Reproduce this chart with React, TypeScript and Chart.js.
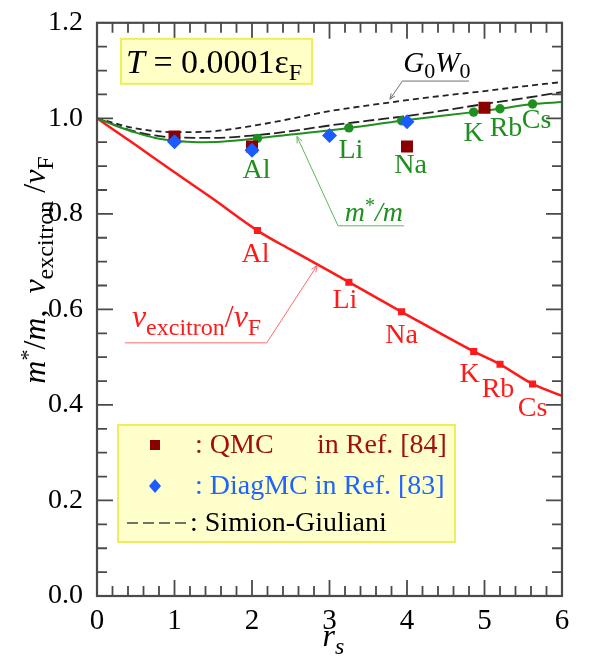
import React, { useEffect, useRef } from 'react';
import { Chart, registerables } from 'chart.js';

Chart.register(...registerables);

// ---------------- data ----------------
const elementNames = ['Al', 'Li', 'Na', 'K', 'Rb', 'Cs'];
const elementRs = [2.07, 3.25, 3.93, 4.86, 5.2, 5.62];
const vExcAtElements = [0.765, 0.657, 0.595, 0.512, 0.485, 0.444];
const mStarAtElements = [0.958, 0.98, 0.995, 1.013, 1.02, 1.03];

const vExcCurveRs = [0, 0.5, 1, 1.5, 2.07, 2.5, 3.0, 3.25, 3.93, 4.86, 5.2, 5.62, 6];
const vExcCurve = [1, 0.944, 0.887, 0.831, 0.765, 0.725, 0.68, 0.657, 0.595, 0.512, 0.485, 0.444, 0.419];

const mStarCurveRs = [0, 0.25, 0.5, 0.75, 1, 1.3, 1.6, 2.07, 2.5, 3.25, 3.93, 4.86, 5.2, 5.62, 6];
const mStarCurve = [1, 0.984, 0.97, 0.959, 0.953, 0.95, 0.951, 0.958, 0.966, 0.98, 0.995, 1.013, 1.02, 1.03, 1.034];

const theoryRs = [0, 0.5, 1, 1.5, 2, 2.5, 3, 3.5, 4, 4.5, 5, 5.5, 6];
const g0w0Curve = [1, 0.979, 0.971, 0.973, 0.984, 0.999, 1.015, 1.027, 1.038, 1.048, 1.057, 1.067, 1.076];
const simionCurve = [1, 0.972, 0.96, 0.959, 0.964, 0.973, 0.985, 0.995, 1.005, 1.017, 1.03, 1.042, 1.055];

const qmcRs = [1, 2, 4, 5];
const qmcValues = [0.962, 0.941, 0.941, 1.022];
const diagRs = [1, 2, 3, 4];
const diagValues = [0.951, 0.933, 0.964, 0.993];

const xTickValues = [0, 1, 2, 3, 4, 5, 6];
const yTickValues = [0, 0.2, 0.4, 0.6, 0.8, 1.0, 1.2];

// ---------------- layout / style ----------------
const FONT = '"Liberation Serif", "Times New Roman", serif';
const RED = '#ff1a1a';
const GREEN = '#1f8f1f';
const QMC_COLOR = '#8b0000';
const DIAG_COLOR = '#1a5cff';
const AXIS_COLOR = '#4a4a4a';

// pixel offsets of element labels from their markers
const greenLabelOffsets = [[-1, 32], [2, 23], [9, 45], [0, 22], [6, 20], [4, 17]];
const redLabelOffsets = [[-2, 24], [-4, 18], [0, 24], [-4, 23], [-2, 25], [0, 25]];

const fnt = (size: number, italic = false) => `${italic ? 'italic ' : ''}${size}px ${FONT}`;

type Run = { t: string; size: number; italic?: boolean; dy?: number };

function runsWidth(ctx: CanvasRenderingContext2D, runs: Run[]) {
  let w = 0;
  for (const r of runs) {
    ctx.font = fnt(r.size, r.italic);
    w += ctx.measureText(r.t).width;
  }
  return w;
}

function drawRuns(
  ctx: CanvasRenderingContext2D,
  runs: Run[],
  x: number,
  y: number,
  color: string,
  align: 'left' | 'center' = 'left'
) {
  let cx = align === 'center' ? x - runsWidth(ctx, runs) / 2 : x;
  ctx.fillStyle = color;
  ctx.textAlign = 'left';
  ctx.textBaseline = 'alphabetic';
  for (const r of runs) {
    ctx.font = fnt(r.size, r.italic);
    ctx.fillText(r.t, cx, y + (r.dy || 0));
    cx += ctx.measureText(r.t).width;
  }
}

function arrowHead(ctx: CanvasRenderingContext2D, fx: number, fy: number, tx: number, ty: number, len = 7) {
  const a = Math.atan2(ty - fy, tx - fx);
  ctx.beginPath();
  ctx.moveTo(tx - len * Math.cos(a - 0.4), ty - len * Math.sin(a - 0.4));
  ctx.lineTo(tx, ty);
  ctx.lineTo(tx - len * Math.cos(a + 0.4), ty - len * Math.sin(a + 0.4));
  ctx.stroke();
}

const decorPlugin = {
  id: 'decor',
  afterDatasetsDraw(chart: any) {
    const ctx: CanvasRenderingContext2D = chart.ctx;
    const xs = chart.scales.x;
    const ys = chart.scales.y;
    const ca = chart.chartArea;
    const px = (v: number) => xs.getPixelForValue(v);
    const py = (v: number) => ys.getPixelForValue(v);
    ctx.save();

    // frame
    ctx.strokeStyle = AXIS_COLOR;
    ctx.lineWidth = 2.2;
    ctx.strokeRect(ca.left, ca.top, ca.right - ca.left, ca.bottom - ca.top);

    // inward ticks
    ctx.lineWidth = 1.8;
    ctx.beginPath();
    for (let i = 1; i < 30; i++) {
      const x = px(i * 0.2);
      const len = i % 5 === 0 ? 16 : 10;
      ctx.moveTo(x, ca.bottom);
      ctx.lineTo(x, ca.bottom - len);
      ctx.moveTo(x, ca.top);
      ctx.lineTo(x, ca.top + len);
    }
    for (let i = 1; i < 24; i++) {
      const y = py(i * 0.05);
      const len = i % 4 === 0 ? 16 : 10;
      ctx.moveTo(ca.left, y);
      ctx.lineTo(ca.left + len, y);
      ctx.moveTo(ca.right, y);
      ctx.lineTo(ca.right - len, y);
    }
    ctx.stroke();

    // element labels
    elementNames.forEach((name, i) => {
      const gx = px(elementRs[i]) + greenLabelOffsets[i][0];
      const gy = py(mStarAtElements[i]) + greenLabelOffsets[i][1];
      const rx = px(elementRs[i]) + redLabelOffsets[i][0];
      const ry = py(vExcAtElements[i]) + redLabelOffsets[i][1];
      ctx.font = fnt(28);
      ctx.textAlign = 'center';
      ctx.textBaseline = 'middle';
      ctx.fillStyle = GREEN;
      ctx.fillText(name, gx, gy);
      ctx.fillStyle = RED;
      ctx.fillText(name, rx, ry);
    });

    // m*/m annotation
    ctx.lineWidth = 1;
    ctx.strokeStyle = '#5cb85c';
    const mEnd = [px(3.96), py(0.775)];
    const mCorner = [px(3.11), py(0.775)];
    const mTip = [px(2.58), py(0.962)];
    ctx.beginPath();
    ctx.moveTo(mEnd[0], mEnd[1]);
    ctx.lineTo(mCorner[0], mCorner[1]);
    ctx.lineTo(mTip[0], mTip[1]);
    ctx.stroke();
    arrowHead(ctx, mCorner[0], mCorner[1], mTip[0], mTip[1]);
    drawRuns(
      ctx,
      [
        { t: 'm', size: 28, italic: true },
        { t: '*', size: 20, dy: -9 },
        { t: '/', size: 28, italic: true },
        { t: 'm', size: 28, italic: true },
      ],
      (mEnd[0] + mCorner[0]) / 2 + 3,
      mEnd[1] - 5,
      GREEN,
      'center'
    );

    // v_excitron / v_F annotation
    ctx.strokeStyle = '#ff6a6a';
    const vStart = [px(0.36), py(0.53)];
    const vCorner = [px(2.19), py(0.53)];
    const vTip = [px(2.84), py(0.692)];
    ctx.beginPath();
    ctx.moveTo(vStart[0], vStart[1]);
    ctx.lineTo(vCorner[0], vCorner[1]);
    ctx.lineTo(vTip[0], vTip[1]);
    ctx.stroke();
    arrowHead(ctx, vCorner[0], vCorner[1], vTip[0], vTip[1]);
    drawRuns(
      ctx,
      [
        { t: 'v', size: 32, italic: true },
        { t: 'excitron', size: 24, dy: 8 },
        { t: '/', size: 32 },
        { t: 'v', size: 32, italic: true },
        { t: 'F', size: 24, dy: 8 },
      ],
      vStart[0] + 7,
      vStart[1] - 16,
      RED,
      'left'
    );

    // G0W0 annotation
    ctx.strokeStyle = '#707070';
    const gEnd = [px(4.8), py(1.078)];
    const gCorner = [px(3.94), py(1.078)];
    const gTip = [px(3.78), py(1.04)];
    ctx.beginPath();
    ctx.moveTo(gEnd[0], gEnd[1]);
    ctx.lineTo(gCorner[0], gCorner[1]);
    ctx.lineTo(gTip[0], gTip[1]);
    ctx.stroke();
    arrowHead(ctx, gCorner[0], gCorner[1], gTip[0], gTip[1], 6);
    drawRuns(
      ctx,
      [
        { t: 'G', size: 29, italic: true },
        { t: '0', size: 22, dy: 6 },
        { t: 'W', size: 29, italic: true },
        { t: '0', size: 22, dy: 6 },
      ],
      gCorner[0] + 1,
      gCorner[1] - 9,
      '#000',
      'left'
    );

    // temperature box
    const tb = { x: ca.left + 24, y: ca.top + 16, w: 191, h: 45 };
    ctx.fillStyle = '#ffffc6';
    ctx.fillRect(tb.x, tb.y, tb.w, tb.h);
    ctx.strokeStyle = '#eded5e';
    ctx.lineWidth = 2;
    ctx.strokeRect(tb.x, tb.y, tb.w, tb.h);
    drawRuns(
      ctx,
      [
        { t: 'T', size: 34, italic: true },
        { t: ' = 0.0001ε', size: 34 },
        { t: 'F', size: 24, dy: 7 },
      ],
      tb.x + 5,
      tb.y + 34,
      '#000',
      'left'
    );

    // legend box
    const lb = { x: ca.left + 21, y: ca.bottom - 171, w: 337, h: 117 };
    ctx.fillStyle = '#ffffcc';
    ctx.fillRect(lb.x, lb.y, lb.w, lb.h);
    ctx.strokeStyle = '#eded5e';
    ctx.lineWidth = 2;
    ctx.strokeRect(lb.x, lb.y, lb.w, lb.h);

    const mx = lb.x + 37;
    // row 1: QMC
    const r1 = lb.y + 20;
    ctx.fillStyle = QMC_COLOR;
    ctx.fillRect(mx - 5, r1 - 5, 10, 10);
    ctx.font = fnt(28);
    ctx.textAlign = 'left';
    ctx.textBaseline = 'middle';
    ctx.fillStyle = '#a01010';
    ctx.fillText(': QMC', lb.x + 77, r1 + 1);
    ctx.fillText('in Ref. [84]', lb.x + 199, r1 + 1);
    // row 2: DiagMC
    const r2 = lb.y + 61;
    ctx.fillStyle = DIAG_COLOR;
    ctx.beginPath();
    ctx.moveTo(mx, r2 - 7);
    ctx.lineTo(mx + 6, r2);
    ctx.lineTo(mx, r2 + 7);
    ctx.lineTo(mx - 6, r2);
    ctx.closePath();
    ctx.fill();
    ctx.fillStyle = '#1e64ff';
    ctx.fillText(': DiagMC in Ref. [83]', lb.x + 77, r2 + 1);
    // row 3: Simion-Giuliani
    const r3 = lb.y + 98;
    ctx.strokeStyle = '#444';
    ctx.lineWidth = 1.6;
    ctx.setLineDash([11, 5]);
    ctx.beginPath();
    ctx.moveTo(lb.x + 9, r3);
    ctx.lineTo(lb.x + 70, r3);
    ctx.stroke();
    ctx.setLineDash([]);
    ctx.fillStyle = '#000';
    ctx.fillText(': Simion-Giuliani', lb.x + 72, r3 + 1);

    ctx.restore();
  },
  afterDraw(chart: any) {
    const ctx: CanvasRenderingContext2D = chart.ctx;
    const ca = chart.chartArea;
    ctx.save();
    // y title
    ctx.translate(ca.left - 52, 270);
    ctx.rotate(-Math.PI / 2);
    drawRuns(
      ctx,
      [
        { t: 'm', size: 32, italic: true },
        { t: '*', size: 22, dy: -10 },
        { t: '/', size: 32 },
        { t: 'm', size: 32, italic: true },
        { t: ',  ', size: 32 },
        { t: 'v', size: 32, italic: true },
        { t: 'excitron', size: 24, dy: 8 },
        { t: ' /', size: 32 },
        { t: 'v', size: 32, italic: true },
        { t: 'F', size: 24, dy: 8 },
      ],
      0,
      0,
      '#000',
      'center'
    );
    ctx.restore();
    ctx.save();
    // x title
    drawRuns(
      ctx,
      [
        { t: 'r', size: 32, italic: true },
        { t: 's', size: 24, italic: true, dy: 8 },
      ],
      (ca.left + ca.right) / 2 + 4,
      ca.bottom + 50,
      '#000',
      'center'
    );
    ctx.restore();
  },
};

const toPts = (xs: number[], ys: number[]) => xs.map((x, i) => ({ x, y: ys[i] }));

export default function App() {
  const ref = useRef<HTMLCanvasElement | null>(null);
  useEffect(() => {
    if (!ref.current) return;
    const chart = new Chart(ref.current, {
      type: 'scatter',
      data: {
        datasets: [
          {
            label: 'DiagMC',
            data: toPts(diagRs, diagValues),
            pointStyle: 'rectRot',
            pointRadius: 7.5,
            backgroundColor: DIAG_COLOR,
            borderColor: DIAG_COLOR,
            borderWidth: 0,
            showLine: false,
          },
          {
            label: 'QMC',
            data: toPts(qmcRs, qmcValues),
            pointStyle: 'rect',
            pointRadius: 8.5,
            backgroundColor: QMC_COLOR,
            borderColor: QMC_COLOR,
            borderWidth: 0,
            showLine: false,
          },
          {
            label: 'm* elements',
            data: toPts(elementRs, mStarAtElements),
            pointStyle: 'circle',
            pointRadius: 4.7,
            backgroundColor: GREEN,
            borderColor: GREEN,
            borderWidth: 0,
            showLine: false,
          },
          {
            label: 'v elements',
            data: toPts(elementRs, vExcAtElements),
            pointStyle: 'rect',
            pointRadius: 5,
            backgroundColor: RED,
            borderColor: RED,
            borderWidth: 0,
            showLine: false,
          },
          {
            label: 'm*/m',
            data: toPts(mStarCurveRs, mStarCurve),
            showLine: true,
            borderColor: GREEN,
            borderWidth: 2,
            pointRadius: 0,
            cubicInterpolationMode: 'monotone',
          },
          {
            label: 'v_exc/v_F',
            data: toPts(vExcCurveRs, vExcCurve),
            showLine: true,
            borderColor: RED,
            borderWidth: 2.5,
            pointRadius: 0,
            cubicInterpolationMode: 'monotone',
          },
          {
            label: 'Simion-Giuliani',
            data: toPts(theoryRs, simionCurve),
            showLine: true,
            borderColor: '#222',
            borderWidth: 1.8,
            borderDash: [11, 4],
            pointRadius: 0,
            cubicInterpolationMode: 'monotone',
          },
          {
            label: 'G0W0',
            data: toPts(theoryRs, g0w0Curve),
            showLine: true,
            borderColor: '#222',
            borderWidth: 1.8,
            borderDash: [6, 4],
            pointRadius: 0,
            cubicInterpolationMode: 'monotone',
          },
        ],
      },
      options: {
        responsive: false,
        animation: false,
        devicePixelRatio: 1,
        layout: { padding: { top: 17, right: 28, left: 0, bottom: 0 } },
        plugins: { legend: { display: false }, tooltip: { enabled: false } },
        scales: {
          x: {
            type: 'linear',
            min: 0,
            max: 6,
            grid: { display: false },
            border: { display: false },
            afterBuildTicks: (s: any) => {
              s.ticks = xTickValues.map((v) => ({ value: v }));
            },
            afterFit: (s: any) => {
              s.height = 67;
            },
            ticks: {
              color: '#000',
              font: { family: FONT, size: 29 },
              padding: 0,
              maxRotation: 0,
              callback: (v: any) => String(v),
            },
          },
          y: {
            type: 'linear',
            min: 0,
            max: 1.2,
            grid: { display: false },
            border: { display: false },
            afterBuildTicks: (s: any) => {
              s.ticks = yTickValues.map((v) => ({ value: v }));
            },
            afterFit: (s: any) => {
              s.width = 97;
            },
            ticks: {
              color: '#000',
              font: { family: FONT, size: 28 },
              padding: 6,
              callback: (v: any) => Number(v).toFixed(1),
            },
          },
        },
      } as any,
      plugins: [decorPlugin],
    });
    return () => chart.destroy();
  }, []);
  return (
    <div style={{ position: 'fixed', left: 0, top: 0, width: 590, height: 663, background: '#fff' }}>
      <canvas ref={ref} width={590} height={663} />
    </div>
  );
}
